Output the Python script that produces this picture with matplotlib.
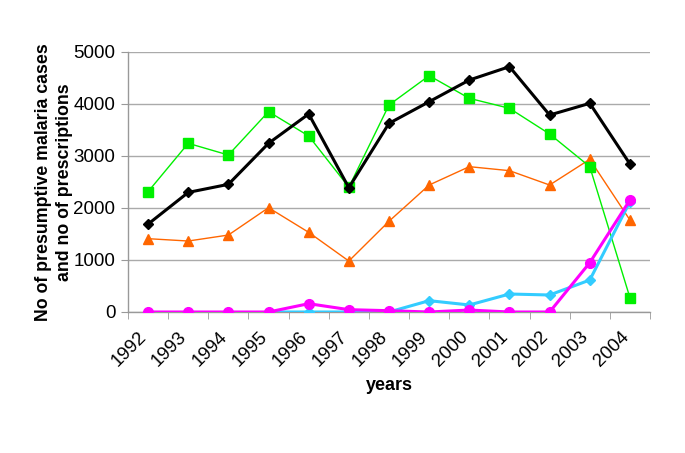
import matplotlib
matplotlib.use("Agg")
import matplotlib.pyplot as plt
import matplotlib.transforms as mtransforms
import numpy as np

years = ["1992", "1993", "1994", "1995", "1996", "1997", "1998",
         "1999", "2000", "2001", "2002", "2003", "2004"]
black_series = [1690, 2300, 2455, 3244, 3808, 2390, 3628, 4044, 4461, 4718, 3788, 4013, 2846]
green_series = [2314, 3244, 3019, 3853, 3385, 2400, 3981, 4545, 4109, 3917, 3423, 2795, 276]
orange_series = [1410, 1365, 1480, 2006, 1532, 980, 1745, 2442, 2795, 2718, 2442, 2936, 1769]
cyan_series = [np.nan, np.nan, np.nan, 0, 0, 0, 0, 218, 135, 346, 327, 615, 2121]
magenta_series = [0, 0, 0, 0, 160, 45, 25, 0, 38, 0, 0, 948, 2154]

plt.rcParams['font.family'] = ['Liberation Sans', 'DejaVu Sans']

fig = plt.figure(figsize=(6.85, 4.53), dpi=100)
ax = fig.add_axes([128/685, 1 - 312/453, 522/685, 260/453])

x = np.arange(len(years))
ax.plot(x, orange_series, color='#ff6600', lw=1.0, marker='^', ms=7, zorder=3)
ax.plot(x, green_series, color='#00f000', lw=1.0, marker='s', ms=6.5, zorder=4)
ax.plot(x, black_series, color='black', lw=2.2, marker='D', ms=5.2, zorder=5)
ax.plot(x, cyan_series, color='#33ccff', lw=2.2, marker='D', ms=4.8, zorder=6)
ax.plot(x, magenta_series, color='#ff00ff', lw=2.2, marker='o', ms=7, zorder=7)

ax.set_xlim(-0.5, len(years) - 0.5)
ax.set_ylim(0, 5000)
ax.set_yticks(range(0, 5001, 1000))
ax.set_yticklabels([str(v) for v in range(0, 5001, 1000)], fontsize=13.5)
ax.yaxis.grid(True, color='#aaaaaa', lw=1.0)
ax.set_axisbelow(True)

ax.set_xticks(x)
ax.set_xticklabels(years, rotation=45, ha='right', va='top', rotation_mode='anchor', fontsize=13.5)
ax.tick_params(axis='x', length=0, pad=0)
offset = mtransforms.ScaledTranslation(-10/100, -16/100, fig.dpi_scale_trans)
for lbl in ax.get_xticklabels():
    lbl.set_transform(lbl.get_transform() + offset)
ax.set_xticks(np.arange(-0.5, len(years), 1), minor=True)
ax.tick_params(axis='x', which='minor', length=5, color='#999999', direction='out')
ax.tick_params(axis='y', length=5, color='#999999', direction='out', pad=4)

for s in ['top', 'right']:
    ax.spines[s].set_visible(False)
for s in ['left', 'bottom']:
    ax.spines[s].set_color('#999999')
    ax.spines[s].set_linewidth(1.0)

ax.set_xlabel('years', fontsize=13, fontweight='bold')
ax.xaxis.set_label_coords(0.5, -(385 - 312) / 260, transform=ax.transAxes)
ax.xaxis.label.set_va('center')
ax.set_ylabel('No of presumptive malaria cases\nand no of prescriptions', fontsize=12.8,
              fontweight='bold', linespacing=1.25)
ax.yaxis.set_label_coords(-(128 - 54) / 522, 0.5, transform=ax.transAxes)
ax.yaxis.label.set_va('center')

fig.savefig('out.png', dpi=100)
